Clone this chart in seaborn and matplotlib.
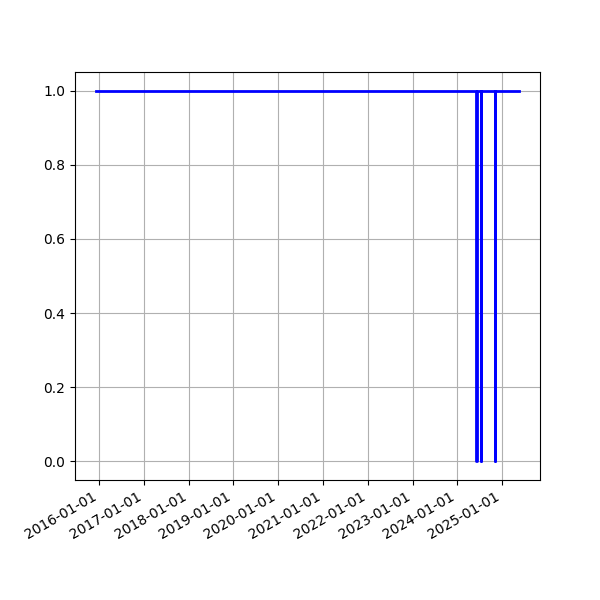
import matplotlib
matplotlib.use("Agg")
import matplotlib.pyplot as plt
import matplotlib.dates as mdates
import seaborn as sns
import pandas as pd

dates = ["2015-12-07",
         "2024-06-04", "2024-06-08",
         "2024-07-10", "2024-07-12",
         "2024-11-01", "2024-11-04",
         "2025-05-18"]
values = [1, 0, 1, 0, 1, 0, 1, 1]

df = pd.DataFrame({"date": pd.to_datetime(dates), "value": values})

fig, ax = plt.subplots(figsize=(6, 6), dpi=100)
sns.lineplot(data=df, x="date", y="value", ax=ax, color="blue", linewidth=2,
             drawstyle="steps-post", estimator=None)
ax.set_xlabel("")
ax.set_ylabel("")
ax.xaxis.set_major_locator(mdates.YearLocator())
ax.xaxis.set_major_formatter(mdates.DateFormatter("%Y-%m-%d"))
ax.grid(True)
fig.autofmt_xdate()
fig.savefig("out.png", dpi=100)
